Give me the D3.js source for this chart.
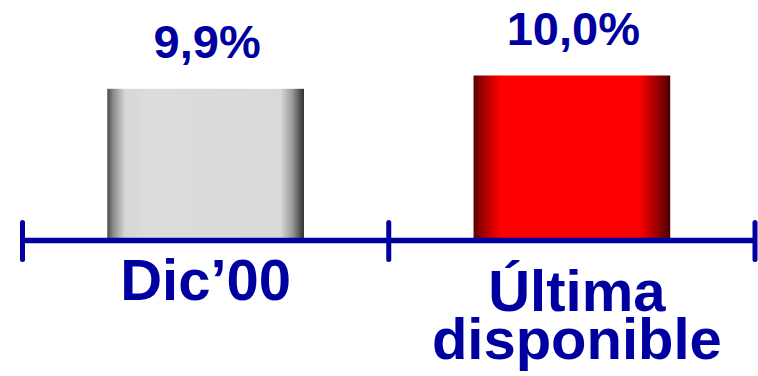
<!DOCTYPE html>
<html>
<head>
<meta charset="utf-8">
<script src="https://cdn.jsdelivr.net/npm/d3@7"></script>
<style>
  html, body { margin: 0; padding: 0; background: #ffffff; }
  svg { display: block; }
</style>
</head>
<body>
<svg id="chart" width="758" height="376"></svg>
<script>
// ---- Data ----
const categories = ["Dic\u201900", "\u00DAltima disponible"];
const categoryLines = [["Dic\u201900"], ["\u00DAltima", "disponible"]];
const values = [9.9, 10.0];
const valueLabels = ["9,9%", "10,0%"];
const barKinds = ["gray", "red"];

// ---- Layout ----
const W = 758, H = 376;
const blue = "#0000a0";
const font = "'Liberation Sans', Arial, Helvetica, sans-serif";
const axisY = 240.5;

const svg = d3.select("#chart");

const x = d3.scaleBand()
  .domain(categories)
  .range([22.5, 755])
  .paddingInner(0.463)
  .paddingOuter(0.2315);

const y = d3.scaleLinear()
  .domain([8.76, 10.0])
  .range([axisY, 75.5]);

// ---- Gradients ----
const defs = svg.append("defs");
const gGray = defs.append("linearGradient").attr("id", "grad-gray")
  .attr("x1", "0%").attr("x2", "100%").attr("y1", "0%").attr("y2", "0%");
[[0, "#4a4a4a"], [0.03, "#8a8a8a"], [0.09, "#d6d6d6"], [0.2, "#dcdcdc"], [0.88, "#d9d9d9"], [0.94, "#9a9a9a"], [1, "#2e2e2e"]]
  .forEach(([o, c]) => gGray.append("stop").attr("offset", o).attr("stop-color", c));

const gRed = defs.append("linearGradient").attr("id", "grad-red")
  .attr("x1", "0%").attr("x2", "100%").attr("y1", "0%").attr("y2", "0%");
[[0, "#5e0000"], [0.06, "#b00000"], [0.14, "#ff0000"], [0.84, "#ff0000"], [0.93, "#a00000"], [1, "#4a0000"]]
  .forEach(([o, c]) => gRed.append("stop").attr("offset", o).attr("stop-color", c));

// ---- Bars ----
svg.selectAll("rect.bar")
  .data(categories)
  .join("rect")
  .attr("class", "bar")
  .attr("x", (d) => x(d))
  .attr("width", x.bandwidth())
  .attr("y", (d, i) => y(values[i]))
  .attr("height", (d, i) => y.range()[0] - y(values[i]))
  .attr("fill", (d, i) => `url(#grad-${barKinds[i]})`);

// ---- Value labels ----
svg.selectAll("text.val")
  .data(categories)
  .join("text")
  .attr("class", "val")
  .attr("x", (d) => x(d) + x.bandwidth() / 2 + 1.5)
  .attr("y", (d, i) => y(values[i]) - 31)
  .attr("text-anchor", "middle")
  .attr("font-family", font)
  .attr("font-weight", "bold")
  .attr("font-size", 47)
  .attr("fill", blue)
  .text((d, i) => valueLabels[i]);

// ---- Axis ----
const step = x.step();
const start = x.range()[0];
const tickXs = d3.range(categories.length + 1).map((i) => start + i * step);

svg.append("line")
  .attr("x1", tickXs[0]).attr("x2", tickXs[tickXs.length - 1])
  .attr("y1", axisY).attr("y2", axisY)
  .attr("stroke", blue).attr("stroke-width", 5.5);

svg.selectAll("line.tick")
  .data(tickXs)
  .join("line")
  .attr("class", "tick")
  .attr("x1", (d) => d).attr("x2", (d) => d)
  .attr("y1", axisY - 18).attr("y2", axisY + 19)
  .attr("stroke", blue).attr("stroke-width", 5)
  .attr("stroke-linecap", "round");

// ---- Category labels ----
const cat = svg.selectAll("text.cat")
  .data(categories)
  .join("text")
  .attr("class", "cat")
  .attr("x", (d) => x(d) + x.bandwidth() / 2)
  .attr("y", (d, i) => categoryLines[i].length > 1 ? 311 : 300)
  .attr("text-anchor", "middle")
  .attr("font-family", font)
  .attr("font-weight", "bold")
  .attr("font-size", 58)
  .attr("fill", blue);

cat.each(function (d, i) {
  const t = d3.select(this);
  const cx = x(d) + x.bandwidth() / 2 + (categoryLines[i].length > 1 ? 5 : 0);
  categoryLines[i].forEach((line, j) => {
    t.append("tspan")
      .attr("x", cx)
      .attr("dy", j === 0 ? 0 : 48)
      .text(line);
  });
});
</script>
</body>
</html>
